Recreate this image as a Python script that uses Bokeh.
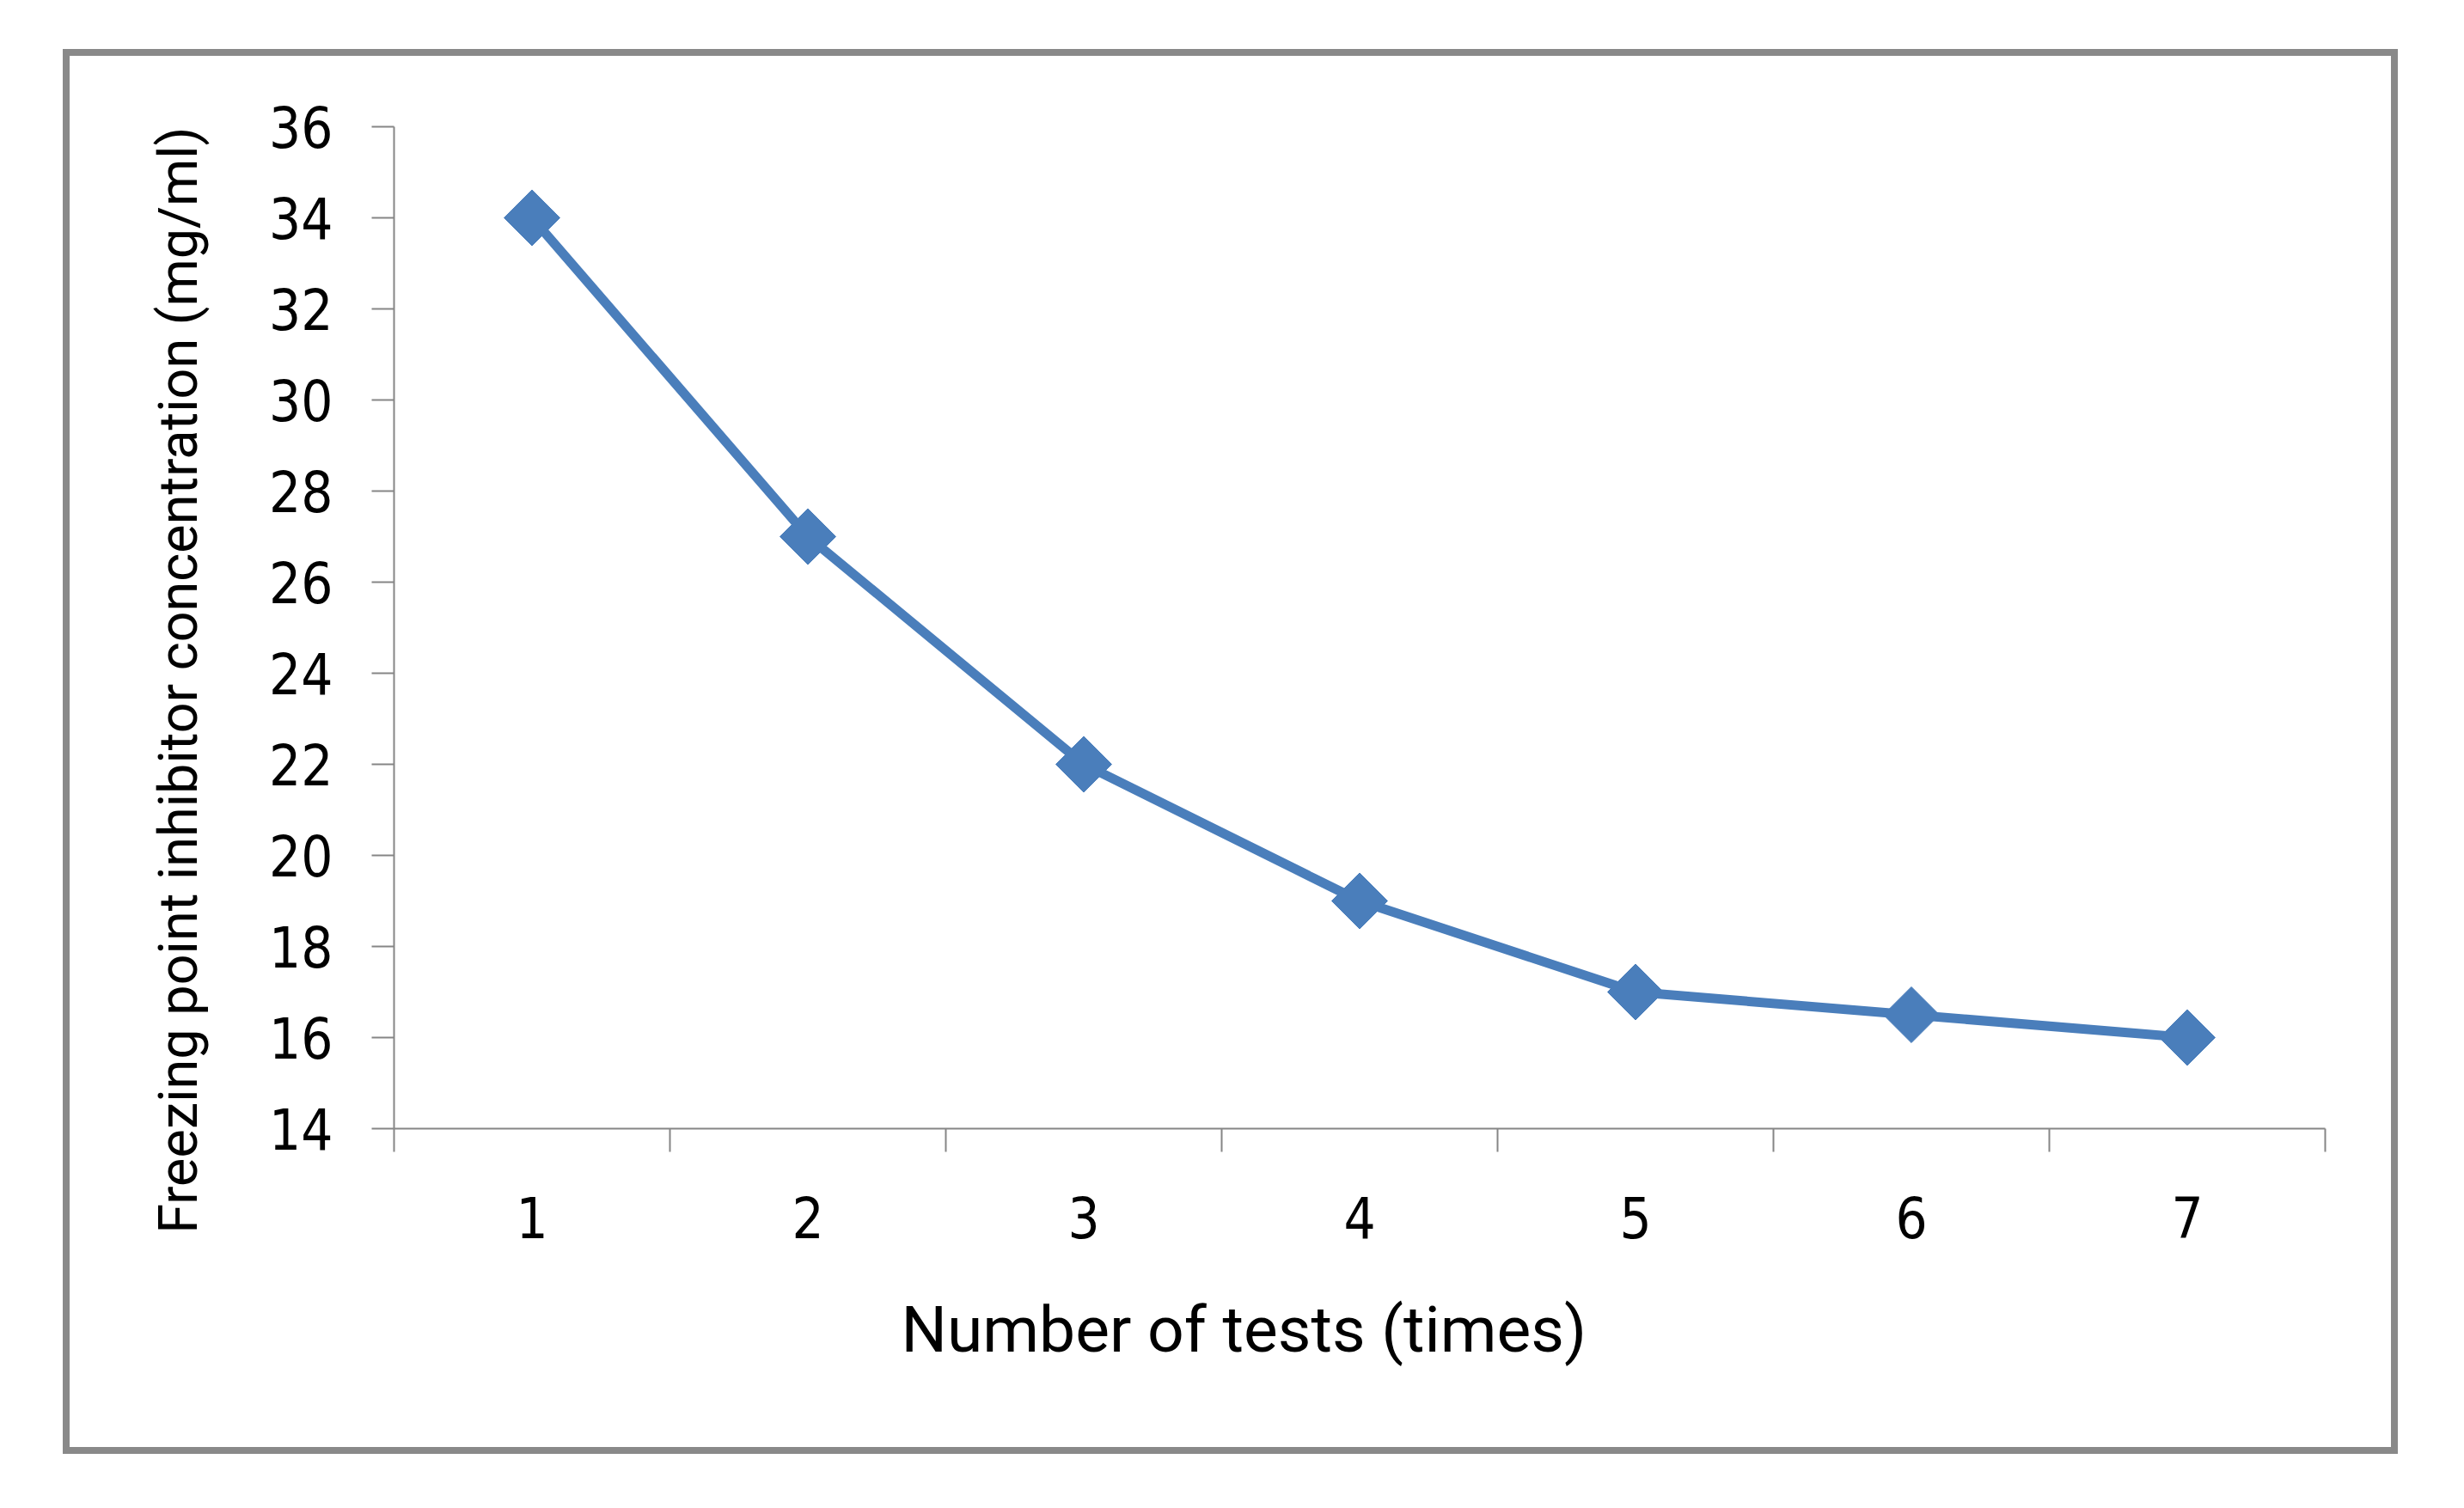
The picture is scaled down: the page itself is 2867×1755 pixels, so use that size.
import numpy as np
from bokeh.plotting import figure
from bokeh.models import FixedTicker, Range1d, Title
from bokeh.embed import file_html
from bokeh.resources import INLINE

# ---- data ----
tests = [1, 2, 3, 4, 5, 6, 7]
concentration = [34, 27, 22, 19, 17, 16.5, 16]
y_ticks = [14, 16, 18, 20, 22, 24, 26, 28, 30, 32, 34, 36]
x_title = "Number of tests (times)"
y_title = "Freezing point inhibitor concentration (mg/ml)"

x_bounds = [t - 0.5 for t in tests] + [tests[-1] + 0.5]

BLUE = "#4A7EBB"
AXIS = "#868686"

p = figure(width=2717, height=1635,
           x_range=Range1d(tests[0] - 0.5, tests[-1] + 0.5),
           y_range=Range1d(y_ticks[0], y_ticks[-1]),
           output_backend="svg", toolbar_location=None,
           min_border_left=377, min_border_right=93,
           min_border_top=82, min_border_bottom=387)
p.margin = (57, 0, 0, 73)
p.styles = {"border": "8px solid #898989"}
p.background_fill_color = "white"
p.border_fill_color = "white"
p.outline_line_color = None
p.xgrid.visible = False
p.ygrid.visible = False

p.line(tests, concentration, line_width=11, line_color=BLUE, line_join="round")
p.scatter(tests, concentration, marker="square", angle=np.pi / 4, size=46,
          fill_color=BLUE, line_color=BLUE)

xa = p.xaxis[0]
xa.ticker = FixedTicker(ticks=tests, minor_ticks=x_bounds)
xa.axis_line_color = AXIS
xa.axis_line_width = 2
xa.major_tick_line_color = None
xa.major_tick_out = 0
xa.major_tick_in = 0
xa.minor_tick_line_color = AXIS
xa.minor_tick_line_width = 2
xa.minor_tick_out = 27
xa.minor_tick_in = 0
xa.major_label_text_font = "DejaVu Sans Condensed, DejaVu Sans"
xa.major_label_text_font_size = "65px"
xa.major_label_text_color = "#000000"
xa.major_label_standoff = 51

ya = p.yaxis[0]
ya.ticker = FixedTicker(ticks=y_ticks, minor_ticks=[])
ya.axis_line_color = AXIS
ya.axis_line_width = 2
ya.major_tick_line_color = AXIS
ya.major_tick_line_width = 2
ya.major_tick_out = 26
ya.major_tick_in = 0
ya.minor_tick_line_color = None
ya.major_label_text_font = "DejaVu Sans Condensed, DejaVu Sans"
ya.major_label_text_font_size = "65px"
ya.major_label_text_color = "#000000"
ya.major_label_standoff = 45

p.add_layout(Title(text=x_title, align="left", offset=590, standoff=114,
                   text_font="Roboto", text_font_size="75px",
                   text_font_style="normal", text_color="#000000"), "below")
p.add_layout(Title(text=y_title, align="right", offset=0, standoff=134,
                   text_font="Roboto", text_font_size="63px",
                   text_font_style="normal", text_color="#000000"), "left")

open("out.html", "w").write(file_html(p, INLINE))
